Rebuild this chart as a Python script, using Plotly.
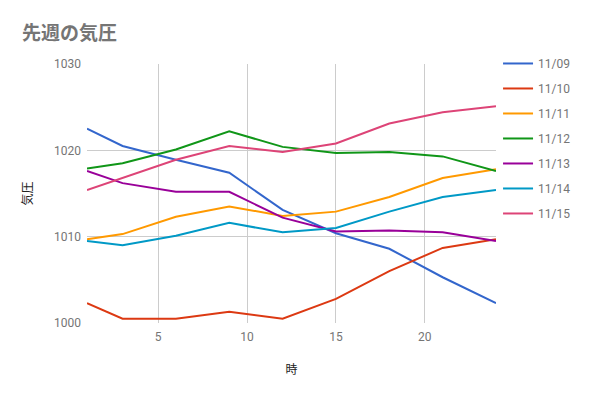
import plotly.graph_objects as go

hours = [1, 3, 6, 9, 12, 15, 18, 21, 24]
dates = ["11/09", "11/10", "11/11", "11/12", "11/13", "11/14", "11/15"]
p_1109 = [1022.5, 1020.5, 1018.9, 1017.4, 1013.1, 1010.4, 1008.6, 1005.3, 1002.3]
p_1110 = [1002.3, 1000.5, 1000.5, 1001.3, 1000.5, 1002.8, 1006.0, 1008.7, 1009.7]
p_1111 = [1009.7, 1010.3, 1012.3, 1013.5, 1012.4, 1012.9, 1014.6, 1016.8, 1017.8]
p_1112 = [1017.9, 1018.5, 1020.1, 1022.2, 1020.4, 1019.7, 1019.8, 1019.3, 1017.6]
p_1113 = [1017.6, 1016.2, 1015.2, 1015.2, 1012.2, 1010.6, 1010.7, 1010.5, 1009.5]
p_1114 = [1009.5, 1009.0, 1010.1, 1011.6, 1010.5, 1011.0, 1012.9, 1014.6, 1015.4]
p_1115 = [1015.4, 1016.8, 1018.9, 1020.5, 1019.8, 1020.8, 1023.1, 1024.4, 1025.1]
series = [p_1109, p_1110, p_1111, p_1112, p_1113, p_1114, p_1115]
colors = ["#3366cc", "#dc3912", "#ff9900", "#109618", "#990099", "#0099c6", "#dd4477"]
x_ticks = [5, 10, 15, 20]
y_ticks = [1000, 1010, 1020, 1030]

fig = go.Figure()
for name, vals, c in zip(dates, series, colors):
    fig.add_trace(go.Scatter(x=hours, y=vals, name=name, mode="lines",
                             line=dict(color=c, width=2), legendgroup=name))

fig.update_layout(
    width=591, height=397,
    paper_bgcolor="white", plot_bgcolor="white",
    margin=dict(l=87, r=95, t=64, b=74),
    font=dict(family="Roboto, 'Noto Sans CJK JP'", size=12, color="#757575"),
    title=dict(text="<b>先週の気圧</b>", x=22/591, xref="container", xanchor="left",
               y=1-33/397, yref="container", yanchor="middle",
               font=dict(family="'Noto Sans CJK JP', Roboto", size=19, color="#757575")),
    legend=dict(x=1.005, xanchor="left", y=1.058, yanchor="top",
                font=dict(family="Roboto", size=12, color="#757575"),
                tracegroupgap=6, itemwidth=30, bgcolor="rgba(0,0,0,0)"),
    xaxis=dict(range=[1, 24], tickvals=x_ticks, showgrid=True, gridcolor="#cccccc",
               gridwidth=1, zeroline=False, showline=False, ticks="",
               ticklabelstandoff=5,
               tickfont=dict(family="Roboto", size=12, color="#757575"),
               title=dict(text="時", standoff=22,
                          font=dict(family="'Noto Sans CJK JP'", size=12, color="#222222"))),
    yaxis=dict(range=[1000, 1030], tickvals=y_ticks, showgrid=True, gridcolor="#cccccc",
               gridwidth=1, zeroline=False, showline=False, ticks="",
               ticklabelstandoff=5,
               tickfont=dict(family="Roboto", size=12, color="#757575"),
               title=dict(text="気圧", standoff=18,
                          font=dict(family="'Noto Sans CJK JP'", size=12, color="#222222"))),
)

fig.write_html("out.html", config={"displayModeBar": False})

with open("out.html", encoding="utf-8") as f:
    html = f.read()
html = html.replace("<head>", "<head><style>html,body{margin:0;padding:0;overflow:hidden;}</style>", 1)
with open("out.html", "w", encoding="utf-8") as f:
    f.write(html)
